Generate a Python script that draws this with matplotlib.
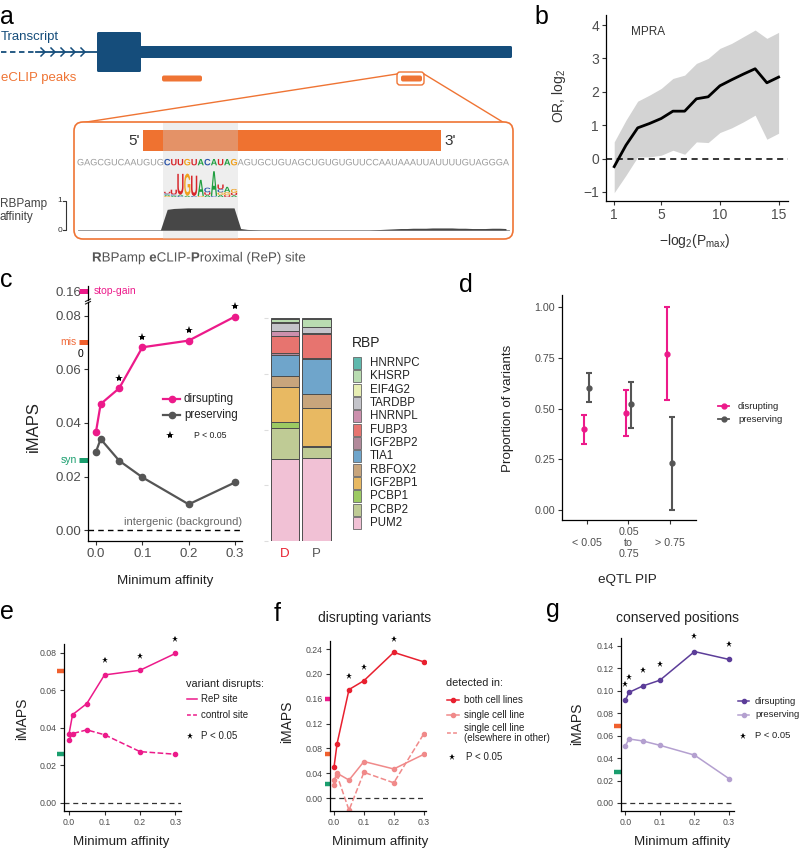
import numpy as np
import matplotlib
matplotlib.use("Agg")
import matplotlib.pyplot as plt
from matplotlib.patches import FancyBboxPatch, Rectangle, PathPatch
from matplotlib.textpath import TextPath
from matplotlib.font_manager import FontProperties, findfont, get_font
from matplotlib.transforms import Affine2D, blended_transform_factory

plt.rcParams['font.family'] = ['Liberation Sans', 'DejaVu Sans']
plt.rcParams['mathtext.fontset'] = 'custom'
plt.rcParams['mathtext.rm'] = 'Liberation Sans'
plt.rcParams['mathtext.it'] = 'Liberation Sans:italic'
plt.rcParams['mathtext.bf'] = 'Liberation Sans:bold'

W, H = 800, 849

# ---------------- data ----------------
# a: RBPamp site sketch
sequence = "GAGCGUCAAUGUGCUUGUACAUAGAGUGCUGUAGCUGUGUGUUCCAAUAAAUUAUUUUGUAGGGA"
site = (13, 24)
affinity = ([0.0] * 13
            + [0.70, 0.73, 0.74, 0.75, 0.75, 0.75, 0.75, 0.75, 0.75, 0.75, 0.75]
            + [0.05, 0.02, 0.01] + [0.0] * 17
            + [0.01, 0.02, 0.03, 0.04, 0.05, 0.05, 0.06, 0.06, 0.06, 0.07, 0.07,
               0.07, 0.07, 0.06, 0.06, 0.05, 0.05, 0.05, 0.06, 0.06, 0.05])
logo_columns = [
    [('G', 0.04), ('A', 0.05), ('C', 0.05), ('U', 0.06)],
    [('A', 0.05), ('C', 0.05), ('U', 0.18)],
    [('C', 0.04), ('A', 0.05), ('U', 0.80)],
    [('A', 0.05), ('G', 0.85)],
    [('C', 0.04), ('U', 0.78)],
    [('G', 0.04), ('A', 0.62)],
    [('A', 0.08), ('U', 0.10), ('C', 0.18)],
    [('C', 0.04), ('A', 0.95)],
    [('A', 0.08), ('G', 0.10), ('C', 0.12), ('U', 0.18)],
    [('U', 0.07), ('G', 0.12), ('A', 0.20)],
    [('A', 0.07), ('U', 0.09), ('G', 0.15)],
]
nt_colors = {'A': '#1f9e3f', 'C': '#2b54a8', 'G': '#f0a01e', 'U': '#d7262b'}
chevron_x = [45, 55, 65, 75, 85]
peaks = [(162, 202), (401, 422)]

# b: MPRA
mpra_x = np.arange(1, 16)
mpra_or = [-0.24, 0.40, 0.92, 1.05, 1.20, 1.42, 1.42, 1.79, 1.85, 2.18, 2.36, 2.53, 2.69, 2.27, 2.44]
mpra_lo = [-1.02, -0.50, 0.05, 0.05, 0.10, 0.25, 0.13, 0.50, 0.48, 0.78, 0.92, 1.10, 1.30, 0.58, 0.76]
mpra_hi = [0.50, 1.15, 1.72, 1.90, 2.10, 2.40, 2.50, 2.85, 3.00, 3.30, 3.45, 3.65, 3.85, 3.60, 3.78]

# c: iMAPS vs minimum affinity
min_aff = [0, 0.01, 0.05, 0.1, 0.2, 0.3]
imaps_disrupt = [0.0368, 0.0471, 0.0530, 0.0683, 0.0708, 0.0798]
imaps_preserve = [0.0293, 0.0340, 0.0259, 0.0197, 0.0096, 0.0178]
sig_c = [False, False, True, True, True, True]
ref_stop, ref_mis, ref_syn = 0.16, 0.0703, 0.0261

rbp_names = ['HNRNPC', 'KHSRP', 'EIF4G2', 'TARDBP', 'HNRNPL', 'FUBP3', 'IGF2BP2',
             'TIA1', 'RBFOX2', 'IGF2BP1', 'PCBP1', 'PCBP2', 'PUM2']
rbp_colors = ['#5fb9ad', '#b9dcb1', '#e7eeb3', '#c4c4ca', '#cc90ad', '#e7746f', '#b1899a',
              '#6fa5cb', '#c8a57c', '#e8b962', '#9cca62', '#bfcb95', '#f1c1d5']
share_D = [0.006, 0.012, 0.0045, 0.034, 0.025, 0.073, 0.010, 0.094, 0.052, 0.153, 0.027, 0.139, 0.367]
share_P = [0.0045, 0.036, 0.0, 0.027, 0.0045, 0.108, 0.0045, 0.157, 0.063, 0.169, 0.003, 0.052, 0.371]

# d: eQTL PIP
pip_bins = ['< 0.05', '0.05\nto\n0.75', '> 0.75']
prop_dis = [0.40, 0.48, 0.77]
prop_dis_lo = [0.325, 0.365, 0.54]
prop_dis_hi = [0.47, 0.59, 1.00]
prop_pre = [0.60, 0.52, 0.23]
prop_pre_lo = [0.53, 0.405, 0.0]
prop_pre_hi = [0.675, 0.63, 0.46]

# e: ReP site vs control site
imaps_rep = imaps_disrupt
imaps_ctrl = [0.0337, 0.0370, 0.0390, 0.0364, 0.0274, 0.0260]
sig_e = [False, False, False, True, True, True]

# f: detected in both / single cell line
imaps_both = [0.0506, 0.0876, 0.1747, 0.1890, 0.2346, 0.2194]
imaps_single = [0.0283, 0.0400, 0.0289, 0.0588, 0.0468, 0.0702]
imaps_single_else = [0.0212, 0.0365, -0.0196, 0.0414, 0.0245, 0.1029]
sig_f = [False, False, True, True, True, False]

# g: conserved positions
imaps_cons_dis = [0.0917, 0.0986, 0.1043, 0.1095, 0.1350, 0.1280]
imaps_cons_pre = [0.0511, 0.0571, 0.0553, 0.0514, 0.0427, 0.0217]
sig_g = [True] * 6

PINK = '#ec1a8a'
GREY = '#555555'
ORANGE = '#ef7434'
GREEN = '#1a9e6e'
BLUE = '#154d7b'

# ---------------- figure ----------------
fig = plt.figure(figsize=(W / 100, H / 100), dpi=100)
bg = fig.add_axes([0, 0, 1, 1])
bg.set_xlim(0, W)
bg.set_ylim(H, 0)
bg.axis('off')

FP = {w: FontProperties(family='Liberation Sans', weight=w) for w in ('normal', 'bold')}


def px_axes(x0, y0, x1, y1):
    ax = fig.add_axes([x0 / W, 1 - y1 / H, (x1 - x0) / W, (y1 - y0) / H])
    ax.patch.set_alpha(0)
    return ax


def classic(ax, size):
    ax.spines[['top', 'right']].set_visible(False)
    ax.spines[['left', 'bottom']].set_linewidth(0.9)
    ax.tick_params(length=3, width=0.8, color='#333333', labelcolor='#4d4d4d',
                   labelsize=size, pad=2)


def ref_mark(ax, y, color, px=7, lw=3.2):
    axw = ax.get_position().width * W
    tr = blended_transform_factory(ax.transAxes, ax.transData)
    ax.plot([-px / axw, -0.5 / axw], [y, y], transform=tr, color=color, lw=lw,
            solid_capstyle='butt', clip_on=False)


def stars(ax, xs, ys, flags, offset, ms=5):
    sx = [x for x, f in zip(xs, flags) if f]
    sy = [y + offset for y, f in zip(ys, flags) if f]
    ax.plot(sx, sy, '*', color='black', ms=ms, mew=0, clip_on=False)


def key(x0, x1, y, color, ls='-', dot=True, lw=1.2, ms=3.5):
    bg.plot([x0, x1], [y, y], color=color, ls=ls, lw=lw)
    if dot:
        bg.plot([(x0 + x1) / 2], [y], 'o', color=color, ms=ms)


def advances(s, fs, weight):
    # unhinted advance widths, in pixels at 100 dpi
    font = get_font(findfont(FP[weight]))
    font.set_size(fs, 100)
    return [font.load_char(ord(ch)).linearHoriAdvance / 65536 for ch in s]


def path_text(x, ybase, s, fs, weight, color, z=5):
    tp = TextPath((0, 0), s, size=fs * 100 / 72, prop=FP[weight])
    tr = Affine2D().scale(1, -1).translate(x, ybase)
    bg.add_patch(PathPatch(tr.transform_path(tp), fc=color, ec='none', lw=0, zorder=z))


for letter, x, y in [('a', 0, 24), ('b', 534, 24), ('c', 0, 287), ('d', 459, 292),
                     ('e', 0, 619), ('f', 274, 621), ('g', 546, 617)]:
    bg.text(x, y, letter, fontsize=18, va='baseline', ha='left')

# ---------------- a ----------------
bg.text(1, 37, 'Transcript', color=BLUE, fontsize=9.5, va='center')
bg.plot([1, 36], [52, 52], color=BLUE, lw=1.3, ls=(0, (3, 2)))
bg.plot([36, 97], [52, 52], color=BLUE, lw=1.3)
for cx in chevron_x:
    bg.plot([cx - 4, cx, cx - 4], [48, 52, 56], color=BLUE, lw=1.1)
bg.add_patch(FancyBboxPatch((97, 32), 44, 40, boxstyle='round,pad=0,rounding_size=1.5',
                            fc=BLUE, ec='none'))
bg.add_patch(FancyBboxPatch((140, 46), 372, 12, boxstyle='round,pad=0,rounding_size=1.5',
                            fc=BLUE, ec='none'))
bg.text(1, 78, 'eCLIP peaks', color=ORANGE, fontsize=9.5, va='center')
for p0, p1 in peaks:
    bg.add_patch(FancyBboxPatch((p0, 75.5), p1 - p0, 6, boxstyle='round,pad=0,rounding_size=2',
                                fc=ORANGE, ec='none'))
bg.add_patch(FancyBboxPatch((397, 72), 27, 13, boxstyle='round,pad=0,rounding_size=3',
                            fc='none', ec=ORANGE, lw=1))
bg.plot([397, 80], [74, 123], color=ORANGE, lw=1)
bg.plot([424, 506], [74, 124], color=ORANGE, lw=1)
bg.add_patch(FancyBboxPatch((74, 122), 439, 117, boxstyle='round,pad=0,rounding_size=9',
                            fc='white', ec=ORANGE, lw=1.2, zorder=2))

# sequence: glyph outlines placed on real advances, tracked to fill the box
in_site = [site[0] <= i < site[1] for i in range(len(sequence))]
seq_fs = 6.6
adv_n = advances(sequence, seq_fs, 'normal')
adv_b = advances(sequence, seq_fs, 'bold')
advs = [ab if b else an for an, ab, b in zip(adv_n, adv_b, in_site)]
track = (509 - 77 - sum(advs)) / (len(sequence) - 1)
seq_x = []
origin = 77
for ch, b, a in zip(sequence, in_site, advs):
    path_text(origin, 165.3, ch, seq_fs, 'bold' if b else 'normal',
              nt_colors[ch] if b else '#9a9a9a')
    seq_x.append(origin + a / 2)
    origin += a + track
seq_x = np.array(seq_x)
step = np.mean(np.diff(seq_x))

bg.add_patch(Rectangle((143, 130), 298, 21, fc='#ef7230', ec='none', zorder=3))
bg.add_patch(Rectangle((seq_x[site[0]] - step / 2 - 1, 123),
                       seq_x[site[1] - 1] - seq_x[site[0]] + step + 2, 115.5,
                       fc='#d0d0d0', alpha=0.35, ec='none', zorder=4))
bg.text(140, 141, "5'", fontsize=11, ha='right', va='center', color='#333333', zorder=5)
bg.text(444, 141, "3'", fontsize=11, ha='left', va='center', color='#333333', zorder=5)


def draw_letter(ch, x, ybot, w, h, color):
    tp = TextPath((0, 0), ch, size=1, prop=FP['bold'])
    bb = tp.get_extents()
    tr = Affine2D().translate(-bb.x0, -bb.y0).scale(w / bb.width, -h / bb.height).translate(x, ybot)
    bg.add_patch(PathPatch(tr.transform_path(tp), fc=color, ec='none', zorder=6))


for k, col in enumerate(logo_columns):
    xc = seq_x[site[0] + k]
    ybot = 197
    for ch, hgt in col:
        hpx = hgt * 26
        draw_letter(ch, xc - step * 0.47, ybot, step * 0.94, hpx, nt_colors[ch])
        ybot -= hpx

aff_base, aff_scale = 230, 29.5
bg.plot([seq_x[0] - 3, seq_x[-1] + 3], [aff_base, aff_base], color='#888888', lw=0.6, zorder=5)
bg.fill_between(seq_x, aff_base, aff_base - np.array(affinity) * aff_scale,
                color='#474747', lw=0, zorder=5)
bg.plot([63, 66, 66, 63], [aff_base - aff_scale, aff_base - aff_scale, aff_base, aff_base],
        color='#333333', lw=0.8)
bg.text(62, aff_base - aff_scale, '1', fontsize=6, ha='right', va='center', color='#333333')
bg.text(62, aff_base, '0', fontsize=6, ha='right', va='center', color='#333333')
bg.text(0, 204, 'RBPamp', fontsize=8.5, va='center', color='#444444')
bg.text(0, 217, 'affinity', fontsize=8.5, va='center', color='#444444')

# caption with bold initials
origin = 92
for s, wt in [('R', 'bold'), ('BPamp ', 'normal'), ('e', 'bold'), ('CLIP-', 'normal'),
              ('P', 'bold'), ('roximal (ReP) site', 'normal')]:
    path_text(origin, 261.5, s, 9.6, wt, '#555555')
    origin += sum(advances(s, 9.6, wt))

# ---------------- b ----------------
axb = px_axes(606, 15, 788, 201)
axb.fill_between(mpra_x, mpra_lo, mpra_hi, color='#d3d3d3', lw=0)
axb.plot(mpra_x, mpra_or, color='black', lw=2)
axb.axhline(0, color='black', lw=1.1, ls=(0, (4, 3)))
axb.set_xlim(0.3, 15.8)
axb.set_ylim(-1.27, 4.3)
axb.set_xticks([1, 5, 10, 15])
axb.set_yticks(range(-1, 5))
classic(axb, 10)
axb.text(0.136, 0.911, 'MPRA', transform=axb.transAxes, fontsize=8.5, va='center', color='#333333')
bg.text(559, 96, r'OR, log$_\mathregular{2}$', rotation=90, fontsize=10, ha='center', va='center',
        color='#333333')
bg.text(695, 241, '\u2212log$_\\mathregular{2}$(P$_\\mathregular{max}$)', fontsize=10,
        ha='center', va='center', color='#333333')

# ---------------- c ----------------
axc = px_axes(88, 302, 242, 541)
axc.plot(min_aff, imaps_disrupt, '-o', color=PINK, lw=1.6, ms=4.5)
axc.plot(min_aff, imaps_preserve, '-o', color=GREY, lw=1.6, ms=4.5)
axc.axhline(0, color='black', lw=1, ls=(0, (4, 3)))
stars(axc, min_aff, imaps_disrupt, sig_c, 0.0038, ms=6)
axc.set_xlim(-0.0173, 0.315)
axc.set_ylim(-0.00411, 0.08523)
axc.set_xticks([0, 0.1, 0.2, 0.3], ['0.0', '0.1', '0.2', '0.3'])
axc.set_yticks([0, 0.02, 0.04, 0.06, 0.08], ['0.00', '0.02', '0.04', '0.06', '0.08'])
classic(axc, 9.5)
ref_mark(axc, ref_mis, '#f0602e', px=9, lw=3.6)
ref_mark(axc, ref_syn, GREEN, px=9, lw=3.6)
trc = blended_transform_factory(axc.transAxes, axc.transData)
axc.text(-11 / 154, ref_mis, 'mis', transform=trc, color='#f06a3a', fontsize=7.5, ha='right', va='center')
axc.text(-11 / 154, ref_syn, 'syn', transform=trc, color=GREEN, fontsize=7.5, ha='right', va='center')
axc.text(1.0, 0.003, 'intergenic (background)', transform=trc, color='#666666', fontsize=8,
         ha='right', va='center')

axct = px_axes(88, 286, 242, 300)
axct.set_ylim(0.15664, 0.16187)
axct.set_xlim(0, 1)
axct.set_yticks([ref_stop], ['0.16'])
axct.set_xticks([])
classic(axct, 9.5)
axct.spines['bottom'].set_visible(False)
ref_mark(axct, ref_stop, PINK, px=9, lw=3.6)
trt = blended_transform_factory(axct.transAxes, axct.transData)
axct.text(6 / 154, ref_stop, 'stop-gain', transform=trt, color=PINK, fontsize=7.5, va='center')
bg.plot([85.5, 90.5], [301.5, 299], color='#222222', lw=0.8)
bg.plot([85.5, 90.5], [304, 301.5], color='#222222', lw=0.8)
bg.text(80, 354, '0', fontsize=7.5, ha='center', va='center')

key(163, 180, 399, PINK, lw=1.6, ms=4.5)
key(163, 180, 415, GREY, lw=1.6, ms=4.5)
bg.text(184, 399, 'dirsupting', fontsize=8.3, va='center', color='#222222')
bg.text(184, 415, 'preserving', fontsize=8.3, va='center', color='#222222')
bg.plot([170], [435], '*', color='black', ms=6, mew=0)
bg.text(194, 435, 'P < 0.05', fontsize=6.3, va='center', color='#222222')
bg.text(165, 581, 'Minimum affinity', fontsize=9.6, ha='center', va='center', color='#222222')
bg.text(33, 427, 'iMAPS', rotation=90, fontsize=12, ha='center', va='center', color='#222222')

# stacked RBP composition
axr = px_axes(268, 318, 334, 541)
for i, shares in enumerate([share_D, share_P]):
    vals = np.array(shares) / np.sum(shares)
    bottom = 0.0
    for j in range(len(rbp_names) - 1, -1, -1):
        if vals[j] > 0:
            axr.bar(i, vals[j], bottom=bottom, width=0.9, color=rbp_colors[j],
                    edgecolor='#4d4d4d', lw=0.7)
        bottom += vals[j]
axr.set_xlim(-0.54, 1.555)
axr.set_ylim(0, 1)
for s in axr.spines.values():
    s.set_visible(False)
axr.set_yticks([0, 0.25, 0.5, 0.75, 1.0], [])
axr.tick_params(axis='y', length=3, color='#dddddd')
axr.set_xticks([0, 1], ['D', 'P'])
axr.tick_params(axis='x', length=0, labelsize=9.5, pad=5)
axr.get_xticklabels()[0].set_color('#e8202f')
axr.get_xticklabels()[1].set_color('#555555')

bg.text(352, 343, 'RBP', fontsize=10, va='center', color='#222222')
for j, (name, col) in enumerate(zip(rbp_names, rbp_colors)):
    yc = 363 + j * 13.33
    bg.add_patch(Rectangle((353, yc - 6.1), 8, 12.2, fc=col, ec='#666666', lw=0.6))
    bg.text(370, yc, name, fontsize=8.3, va='center', color='#222222')

# ---------------- d ----------------
axd = px_axes(562, 295, 696, 520)
xd = np.arange(1, 4)
axd.errorbar(xd - 0.06, prop_dis,
             yerr=[np.subtract(prop_dis, prop_dis_lo), np.subtract(prop_dis_hi, prop_dis)],
             fmt='o', color=PINK, ms=3.5, capsize=2, elinewidth=1.5, capthick=1.5)
axd.errorbar(xd + 0.06, prop_pre,
             yerr=[np.subtract(prop_pre, prop_pre_lo), np.subtract(prop_pre_hi, prop_pre)],
             fmt='o', color=GREY, ms=3.5, capsize=2, elinewidth=1.5, capthick=1.5)
axd.set_xlim(0.398, 3.627)
axd.set_ylim(-0.049, 1.059)
axd.set_yticks([0, 0.25, 0.5, 0.75, 1.0], ['0.00', '0.25', '0.50', '0.75', '1.00'])
axd.set_xticks(xd, pip_bins, linespacing=1.15)
classic(axd, 7.7)
axd.tick_params(axis='x', pad=13.5)
for lab in axd.get_xticklabels():
    lab.set_va('center')
key(718, 729, 406, PINK, lw=1.3, ms=3.5)
key(718, 729, 419, GREY, lw=1.3, ms=3.5)
bg.text(738, 406, 'disrupting', fontsize=6.8, va='center', color='#222222')
bg.text(738, 419, 'preserving', fontsize=6.8, va='center', color='#222222')
bg.text(508, 408, 'Proportion of variants', rotation=90, fontsize=9.6, ha='center', va='center',
        color='#222222')
bg.text(627, 580, 'eQTL PIP', fontsize=9.7, ha='center', va='center', color='#222222')

# ---------------- e ----------------
axe = px_axes(64, 644, 180.5, 811)
axe.plot(min_aff, imaps_rep, '-o', color=PINK, lw=1.1, ms=3)
axe.plot(min_aff, imaps_ctrl, '--o', color=PINK, lw=1.1, ms=3)
axe.axhline(0, color='#333333', lw=0.9, ls=(0, (4, 3)))
stars(axe, min_aff, imaps_rep, sig_e, 0.0077)
axe.set_xlim(-0.0141, 0.3141)
axe.set_ylim(-0.00427, 0.0848)
axe.set_xticks([0, 0.1, 0.2, 0.3], ['0.0', '0.1', '0.2', '0.3'])
axe.set_yticks([0, 0.02, 0.04, 0.06, 0.08], ['0.00', '0.02', '0.04', '0.06', '0.08'])
classic(axe, 6.3)
ref_mark(axe, ref_mis, '#f0602e')
ref_mark(axe, ref_syn, GREEN)
bg.text(186, 684, 'variant disrupts:', fontsize=7.9, va='center', color='#222222')
key(187, 197, 699, PINK, dot=False, lw=1.1)
key(187, 197, 715, PINK, ls=(0, (2.5, 1.5)), dot=False, lw=1.1)
bg.text(201, 699, 'ReP site', fontsize=7, va='center', color='#222222')
bg.text(201, 715, 'control site', fontsize=7, va='center', color='#222222')
bg.plot([190], [736], '*', color='black', ms=5, mew=0)
bg.text(201, 736, 'P < 0.05', fontsize=7, va='center', color='#222222')
bg.text(121, 842, 'Minimum affinity', fontsize=9.6, ha='center', va='center', color='#222222')
bg.text(22, 719, 'iMAPS', rotation=90, fontsize=10, ha='center', va='center', color='#222222')

# ---------------- f ----------------
RED = '#e8202f'
SALMON = '#f08a8a'
axf = px_axes(330, 641, 426, 811)
axf.plot(min_aff, imaps_both, '-o', color=RED, lw=1.1, ms=3)
axf.plot(min_aff, imaps_single, '-o', color=SALMON, lw=1.1, ms=3)
axf.plot(min_aff, imaps_single_else, '--o', color=SALMON, lw=1.1, ms=3)
axf.axhline(0, color='#333333', lw=0.9, ls=(0, (4, 3)))
stars(axf, min_aff, imaps_both, sig_f, 0.022)
axf.set_xlim(-0.0137, 0.308)
axf.set_ylim(-0.0209, 0.2529)
axf.set_xticks([0, 0.1, 0.2, 0.3], ['0.0', '0.1', '0.2', '0.3'])
axf.set_yticks([0, 0.04, 0.08, 0.12, 0.16, 0.20, 0.24],
               ['0.00', '0.04', '0.08', '0.12', '0.16', '0.20', '0.24'])
classic(axf, 6.3)
ref_mark(axf, ref_stop, PINK, px=5)
ref_mark(axf, ref_mis, '#f0602e', px=5)
ref_mark(axf, 0.0223, GREEN, px=5)
bg.text(375, 618, 'disrupting variants', fontsize=10, ha='center', va='center', color='#222222')
bg.text(445.5, 683, 'detected in:', fontsize=7.9, va='center', color='#222222')
key(447, 459, 700, RED, lw=1.1, ms=3)
key(447, 459, 714.6, SALMON, lw=1.1, ms=3)
key(447, 459, 733, SALMON, ls=(0, (2.5, 1.5)), dot=False, lw=1.1)
bg.text(464, 700, 'both cell lines', fontsize=7, va='center', color='#222222')
bg.text(464, 714.6, 'single cell line', fontsize=7, va='center', color='#222222')
bg.text(464, 733, 'single cell line\n(elsewhere in other)', fontsize=7, va='center',
        linespacing=1.05, color='#222222')
bg.plot([452], [757], '*', color='black', ms=5, mew=0)
bg.text(466, 757, 'P < 0.05', fontsize=7, va='center', color='#222222')
bg.text(380, 842, 'Minimum affinity', fontsize=9.6, ha='center', va='center', color='#222222')
bg.text(287, 722, 'iMAPS', rotation=90, fontsize=10, ha='center', va='center', color='#222222')

# ---------------- g ----------------
PURPLE = '#5c3d99'
LAVENDER = '#b4a0d0'
axg = px_axes(621, 638, 734, 811)
axg.plot(min_aff, imaps_cons_dis, '-o', color=PURPLE, lw=1.1, ms=3)
axg.plot(min_aff, imaps_cons_pre, '-o', color=LAVENDER, lw=1.1, ms=3)
axg.axhline(0, color='#333333', lw=0.9, ls=(0, (4, 3)))
stars(axg, min_aff, imaps_cons_dis, sig_g, 0.014)
axg.set_xlim(-0.013, 0.3145)
axg.set_ylim(-0.00714, 0.1471)
axg.set_xticks([0, 0.1, 0.2, 0.3], ['0.0', '0.1', '0.2', '0.3'])
axg.set_yticks([0, 0.02, 0.04, 0.06, 0.08, 0.10, 0.12, 0.14],
               ['0.00', '0.02', '0.04', '0.06', '0.08', '0.10', '0.12', '0.14'])
classic(axg, 6.3)
ref_mark(axg, 0.069, '#f0602e')
ref_mark(axg, 0.028, GREEN)
bg.text(677, 618, 'conserved positions', fontsize=10, ha='center', va='center', color='#222222')
key(738, 749, 701, PURPLE, lw=1.1, ms=3)
key(738, 749, 714.6, LAVENDER, lw=1.1, ms=3)
bg.text(755, 701, 'dirsupting', fontsize=6.8, va='center', color='#222222')
bg.text(755, 714.6, 'preserving', fontsize=6.8, va='center', color='#222222')
bg.plot([743], [736], '*', color='black', ms=5, mew=0)
bg.text(755, 736, 'P < 0.05', fontsize=6.8, va='center', color='#222222')
bg.text(682, 842, 'Minimum affinity', fontsize=9.6, ha='center', va='center', color='#222222')
bg.text(577, 724, 'iMAPS', rotation=90, fontsize=10, ha='center', va='center', color='#222222')

fig.savefig('out.png', dpi=100)
